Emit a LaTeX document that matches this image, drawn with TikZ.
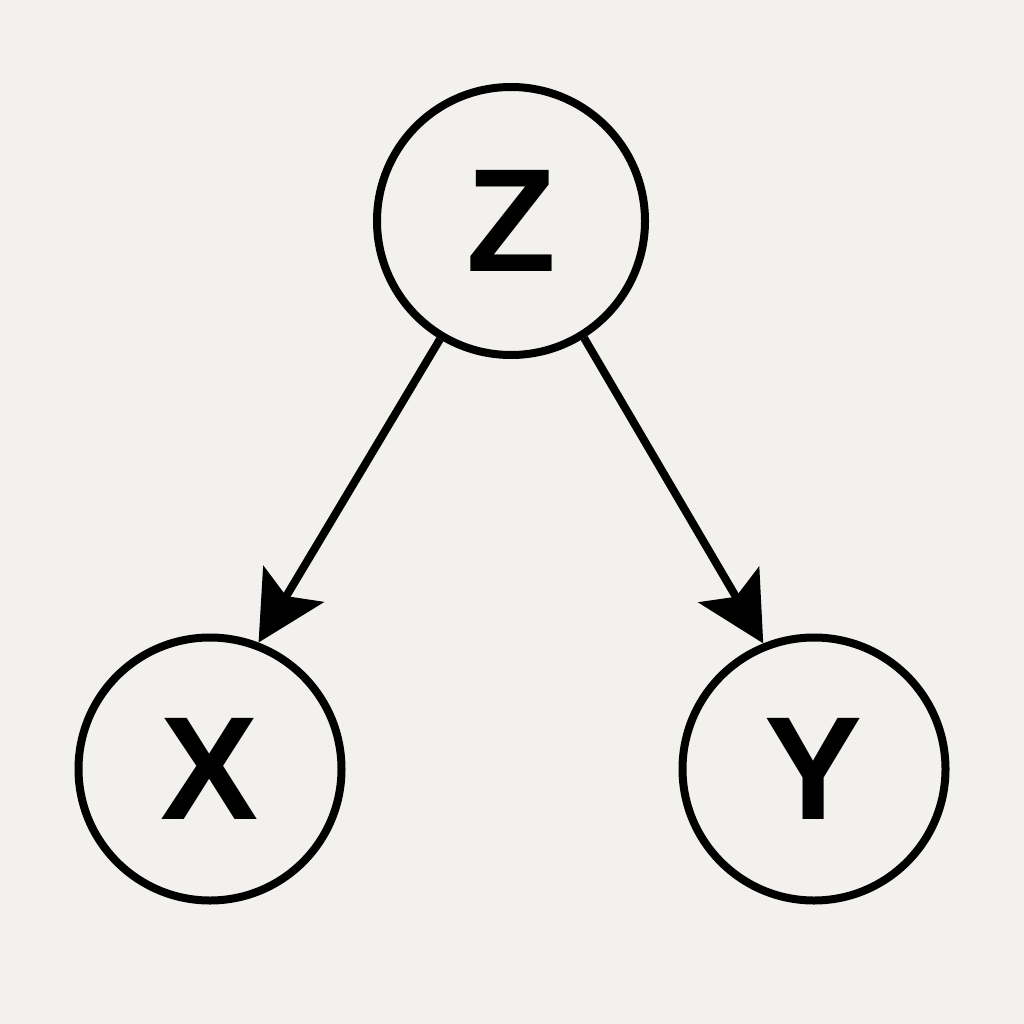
\documentclass[tikz,border=0pt]{standalone}
\usepackage{fontspec}
\setmainfont{Liberation Sans}
\usetikzlibrary{arrows.meta}
\definecolor{paper}{RGB}{242,241,237}
\begin{document}
\begin{tikzpicture}[x=1pt,y=-1pt,
  var/.style={circle,draw=black,line width=8pt,minimum size=263pt,inner sep=0pt,
    font=\fontsize{147}{147}\selectfont\bfseries},
  edge/.style={line width=8pt,-{Stealth[length=68pt,width=70pt,inset=14pt]}}]
  \fill[paper] (0,0) rectangle (1024,1024);
  \useasboundingbox (0,0) rectangle (1024,1024);
  \node[var,minimum size=268pt] (Z) at (511,221) {Z};
  \node[var] (X) at (210,769) {X};
  \node[var] (Y) at (814,769) {Y};
  \draw[edge] (Z.239) -- (X.69);
  \draw[edge] (Z.302) -- (Y.112);
\end{tikzpicture}
\end{document}
